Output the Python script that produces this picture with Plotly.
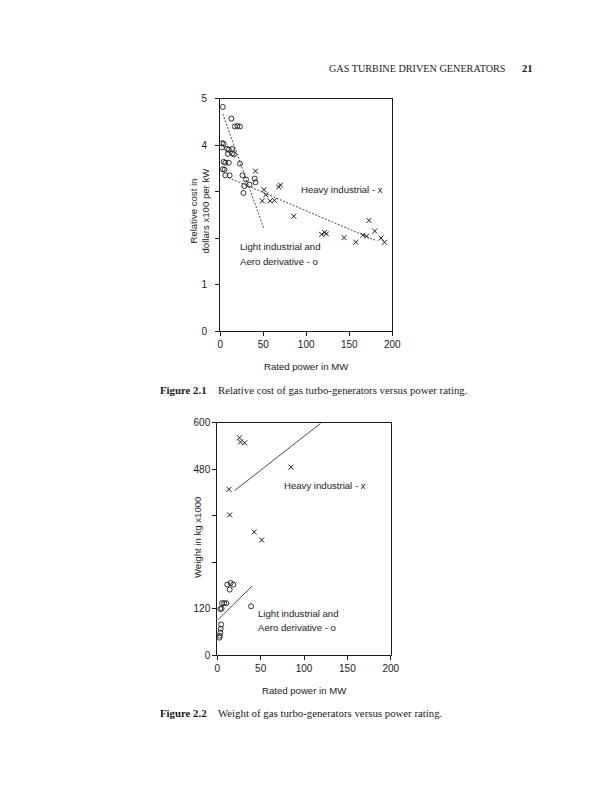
import plotly.graph_objects as go

# ---------------- Figure 2.1 data (relative cost, $x100 per kW) ----------------
cost_heavy_mw = [41, 51, 53, 49, 58, 63, 68, 70, 85.5, 118, 121.5, 123.5, 144, 157.6, 166, 170, 172.8, 179.6, 187, 191]
cost_heavy_val = [3.44, 3.04, 2.93, 2.80, 2.80, 2.81, 3.10, 3.14, 2.47, 2.08, 2.12, 2.09, 2.01, 1.91, 2.06, 2.04, 2.38, 2.15, 2.00, 1.91]
cost_light_mw = [3, 13, 17, 20, 23, 2, 4, 2, 8, 10, 14, 9, 14, 16, 4, 6, 10, 23, 3, 5, 6, 11, 26, 30, 40, 41, 34, 27, 28]
cost_light_val = [4.82, 4.57, 4.40, 4.41, 4.40, 4.04, 4.03, 3.95, 3.92, 3.90, 3.92, 3.81, 3.82, 3.80, 3.64, 3.62, 3.62, 3.60, 3.48, 3.47, 3.35, 3.35, 3.35, 3.26, 3.28, 3.20, 3.15, 2.97, 3.12]
cost_heavy_fit_mw = [9.5, 182]
cost_heavy_fit_val = [3.30, 1.94]
cost_light_fit_mw = [3, 50.5]
cost_light_fit_val = [4.67, 2.22]
cost_yticks = [0, 1, 2, 3, 4, 5]
cost_yticktext = ["0", "1", "", "", "4", "5"]

# ---------------- Figure 2.2 data (weight, kg x1000) ----------------
wt_heavy_mw = [25.6, 26.8, 31.6, 85, 13.6, 14.3, 42.6, 51.2]
wt_heavy_val = [561, 550, 548, 485, 428, 362, 318, 297]
wt_light_mw = [11.6, 15.5, 18.5, 14.3, 5.5, 8, 10.5, 3.5, 5, 39, 4.5, 4, 3.5, 3, 2.5]
wt_light_val = [182, 186, 182, 169, 134, 134, 134, 119, 120, 126, 79, 68, 58, 50, 45]
wt_heavy_fit_mw = [20.3, 119]
wt_heavy_fit_val = [425, 598]
wt_light_fit_mw = [1.1, 40]
wt_light_fit_val = [92, 178]
wt_yticks = [0, 120, 240, 360, 480, 600]
wt_yticktext = ["0", "120", "", "", "480", "600"]

xticks = [0, 50, 100, 150, 200]

W, H = 615, 800
def px(x):
    return x / W
def py(y):
    return 1 - y / H

INK = "#1a1a1a"
SANS = "Liberation Sans, Arial, sans-serif"
SERIF = "Liberation Serif, Times New Roman, serif"

fig = go.Figure()

def add_marks(xa, ya, hx, hy, lx, ly, hfx, hfy, lfx, lfy, dash):
    fig.add_trace(go.Scatter(x=hfx, y=hfy, mode="lines", xaxis=xa, yaxis=ya,
                             line=dict(color="#333", width=0.9, dash=dash), showlegend=False, hoverinfo="skip"))
    fig.add_trace(go.Scatter(x=lfx, y=lfy, mode="lines", xaxis=xa, yaxis=ya,
                             line=dict(color="#333", width=0.9, dash=dash), showlegend=False, hoverinfo="skip"))
    fig.add_trace(go.Scatter(x=hx, y=hy, mode="markers", xaxis=xa, yaxis=ya,
                             marker=dict(symbol="x-thin-open", size=5, color=INK, line=dict(color=INK, width=1)),
                             showlegend=False))
    fig.add_trace(go.Scatter(x=lx, y=ly, mode="markers", xaxis=xa, yaxis=ya,
                             marker=dict(symbol="circle-open", size=5, color=INK, line=dict(color=INK, width=0.9)),
                             showlegend=False))

add_marks("x", "y", cost_heavy_mw, cost_heavy_val, cost_light_mw, cost_light_val,
          cost_heavy_fit_mw, cost_heavy_fit_val, cost_light_fit_mw, cost_light_fit_val, "2px,1.5px")
add_marks("x2", "y2", wt_heavy_mw, wt_heavy_val, wt_light_mw, wt_light_val,
          wt_heavy_fit_mw, wt_heavy_fit_val, wt_light_fit_mw, wt_light_fit_val, "solid")

axis_common = dict(showgrid=False, zeroline=False, showline=True, mirror=True,
                   linecolor=INK, linewidth=1, ticks="outside", ticklen=4, tickwidth=1,
                   tickcolor=INK, tickfont=dict(family=SANS, size=10, color=INK))

fig.update_layout(
    width=W, height=H, margin=dict(l=0, r=0, t=0, b=0),
    paper_bgcolor="white", plot_bgcolor="white", showlegend=False,
    xaxis=dict(domain=[px(221.5), px(397)], range=[0, 200], tickvals=xticks, anchor="y", **axis_common),
    yaxis=dict(domain=[py(330), py(94)], range=[0, 5], tickvals=cost_yticks, ticktext=cost_yticktext,
               anchor="x", ticklabelstandoff=6, **axis_common),
    xaxis2=dict(domain=[px(218.5), px(395.5)], range=[0, 200], tickvals=xticks, anchor="y2", **axis_common),
    yaxis2=dict(domain=[py(659), py(423)], range=[0, 600], tickvals=wt_yticks, ticktext=wt_yticktext,
                anchor="x2", **axis_common),
)

ann = []
def text(x, y, s, size=9.6, family=SANS, xanchor="left", angle=0):
    ann.append(dict(x=px(x), y=py(y), xref="paper", yref="paper", text=s, showarrow=False,
                    xanchor=xanchor, yanchor="middle", textangle=angle,
                    font=dict(family=family, size=size, color=INK)))

# page header
text(330, 63, "GAS TURBINE DRIVEN GENERATORS", size=10.2, family=SERIF)
text(527, 63, "<b>21</b>", size=10.5, family=SERIF)

# Figure 2.1 labels
text(302, 186, "Heavy industrial - x")
text(239.5, 244, "Light industrial and")
text(239.5, 259, "Aero derivative - o")
text(310, 366, "Rated power in MW", xanchor="center")
text(200.5, 208, "Relative cost in<br>dollars x100 per kW", xanchor="center", angle=-90)
text(158, 390, "<b>Figure 2.1</b>", size=10.8, family=SERIF)
text(217, 390, "Relative cost of gas turbo-generators versus power rating.", size=10.8, family=SERIF)

# Figure 2.2 labels
text(285, 487, "Heavy industrial - x")
text(258, 617, "Light industrial and")
text(258, 631, "Aero derivative - o")
text(308, 695, "Rated power in MW", xanchor="center")
text(199, 540, "Weight in kg x1000", xanchor="center", angle=-90)
text(158, 718, "<b>Figure 2.2</b>", size=10.8, family=SERIF)
text(217, 718, "Weight of gas turbo-generators versus power rating.", size=10.8, family=SERIF)

fig.update_layout(annotations=ann)
fig.write_html("out.html", config={"displayModeBar": False},
               post_script="document.body.style.margin='0px';")
